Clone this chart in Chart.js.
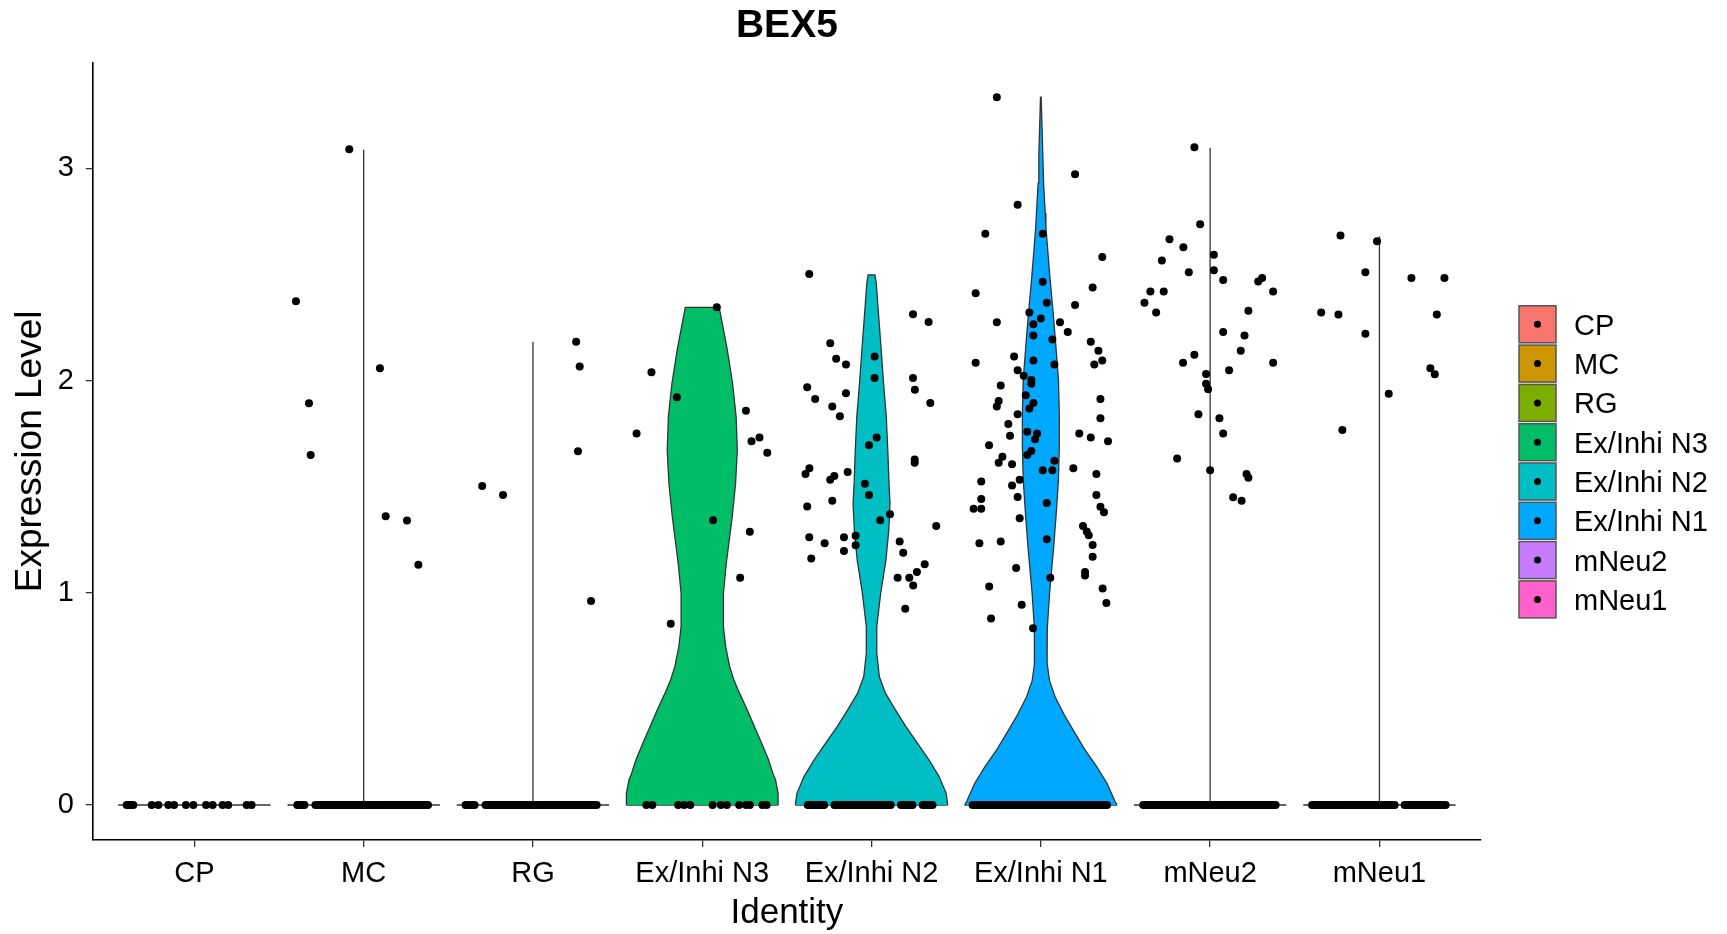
<!DOCTYPE html>
<html>
<head>
<meta charset="utf-8">
<title>BEX5</title>
<script src="https://cdn.jsdelivr.net/npm/chart.js"></script>
<style>
  html, body { margin: 0; padding: 0; background: #ffffff; }
  canvas { display: block; }
</style>
</head>
<body>
<canvas id="vlnChart" width="1727" height="934"></canvas>
<script>
// Identities and their ggplot hue colours
const categories = ["CP", "MC", "RG", "Ex/Inhi N3", "Ex/Inhi N2", "Ex/Inhi N1", "mNeu2", "mNeu1"];
const palette = ["#F8766D", "#CD9600", "#7CAE00", "#00BE67", "#00BFC4", "#00A9FF", "#C77CFF", "#FF61CC"];
const yTicks = [0, 1, 2, 3];

// jitter offsets of the cells sitting at 0
const cpZero = [-0.4, -0.39, -0.38, -0.37, -0.361, -0.252, -0.213, -0.154, -0.12, -0.05, -0.006, 0.069, 0.108, 0.167, 0.2, 0.309, 0.338];
const mcZero = [-0.392, -0.381, -0.37, -0.36, -0.35,
  -0.285, -0.273, -0.261, -0.249, -0.237, -0.225, -0.213, -0.201, -0.189, -0.177, -0.165, -0.153, -0.141, -0.129, -0.117, -0.105,
  -0.093, -0.081, -0.069, -0.057, -0.045, -0.033, -0.021, -0.009, 0.003, 0.015, 0.027, 0.039, 0.051, 0.063, 0.075, 0.087,
  0.099, 0.111, 0.123, 0.135, 0.147, 0.159, 0.171, 0.183, 0.195, 0.207, 0.219, 0.231, 0.243, 0.255, 0.267, 0.279, 0.291,
  0.303, 0.315, 0.327, 0.339, 0.351, 0.363, 0.38];
const rgZero = [-0.398, -0.385, -0.372, -0.358, -0.345,
  -0.28, -0.268, -0.256, -0.244, -0.232, -0.22, -0.208, -0.196, -0.184, -0.172, -0.16, -0.148, -0.136, -0.124, -0.112, -0.1,
  -0.088, -0.076, -0.064, -0.052, -0.04, -0.028, -0.016, -0.004, 0.008, 0.02, 0.032, 0.044, 0.056, 0.068, 0.08, 0.092,
  0.104, 0.116, 0.128, 0.14, 0.152, 0.164, 0.176, 0.188, 0.2, 0.212, 0.224, 0.236, 0.248, 0.26, 0.272, 0.284, 0.296,
  0.308, 0.32, 0.332, 0.344, 0.356, 0.366, 0.376];
const n3Zero = [-0.33, -0.295, -0.142, -0.107, -0.071, 0.061, 0.11, 0.145, 0.218, 0.258, 0.281, 0.356, 0.38];
const n2Zero = [-0.377, -0.366, -0.355, -0.343, -0.33, -0.318, -0.305, -0.293, -0.28,
  -0.219, -0.207, -0.195, -0.183, -0.17, -0.158, -0.145, -0.133, -0.12, -0.108, -0.095, -0.083, -0.07, -0.058, -0.045,
  -0.033, -0.02, -0.008, 0.005, 0.017, 0.03, 0.042, 0.055, 0.067, 0.08, 0.096, 0.113,
  0.174, 0.187, 0.2, 0.21, 0.22, 0.231, 0.242,
  0.302, 0.316, 0.33, 0.345, 0.36];
const n1Zero = [-0.403, -0.391, -0.379, -0.367, -0.355, -0.343, -0.331, -0.319, -0.307, -0.295, -0.283, -0.271, -0.259,
  -0.247, -0.235, -0.223, -0.211, -0.199, -0.187, -0.175, -0.163, -0.151, -0.139, -0.127, -0.115, -0.103, -0.091, -0.079,
  -0.067, -0.055, -0.043, -0.031, -0.019, -0.007, 0.005, 0.017, 0.029, 0.041, 0.053, 0.065, 0.077, 0.089, 0.101, 0.113,
  0.125, 0.137, 0.149, 0.161, 0.173, 0.185, 0.197, 0.209, 0.221, 0.233, 0.245, 0.257, 0.269, 0.281, 0.293, 0.305, 0.317,
  0.329, 0.341, 0.353, 0.365, 0.378, 0.391];
const mneu2Zero = [-0.395, -0.383, -0.371, -0.359, -0.347, -0.335, -0.323, -0.311, -0.299, -0.287, -0.275, -0.263, -0.251,
  -0.239, -0.227, -0.215, -0.203, -0.191, -0.179, -0.167, -0.155, -0.143, -0.131, -0.119, -0.107, -0.095, -0.083, -0.071,
  -0.059, -0.047, -0.035, -0.023, -0.011, 0.001, 0.013, 0.025, 0.037, 0.049, 0.061, 0.073, 0.085, 0.097, 0.109, 0.121,
  0.133, 0.145, 0.157, 0.169, 0.181, 0.193, 0.205, 0.217, 0.229, 0.241, 0.253, 0.265, 0.277, 0.289, 0.301, 0.313, 0.325,
  0.337, 0.349, 0.358, 0.367, 0.377, 0.387];
const mneu1Zero = [-0.398, -0.386, -0.374, -0.362, -0.35, -0.338, -0.326, -0.314, -0.302, -0.29, -0.278, -0.266, -0.254,
  -0.242, -0.23, -0.218, -0.206, -0.194, -0.182, -0.17, -0.158, -0.146, -0.134, -0.122, -0.11, -0.098, -0.086, -0.074,
  -0.062, -0.05, -0.038, -0.026, -0.014, -0.002, 0.01, 0.022, 0.034, 0.046, 0.058, 0.07, 0.08, 0.09,
  0.149, 0.161, 0.173, 0.185, 0.197, 0.209, 0.221, 0.233, 0.245, 0.257, 0.269, 0.281, 0.293, 0.305, 0.317, 0.329, 0.341,
  0.353, 0.365, 0.378, 0.391];

// expressing cells: value and jitter
const mcVals = [3.09, 2.374, 2.058, 1.893, 1.649, 1.361, 1.34, 1.132];
const mcJit = [-0.085, -0.4, 0.096, -0.323, -0.313, 0.13, 0.256, 0.323];
const rgVals = [2.183, 2.066, 1.667, 1.503, 1.46, 0.961];
const rgJit = [0.255, 0.276, 0.266, -0.3, -0.177, 0.343];
const n3Vals = [2.345, 2.039, 1.921, 1.75, 1.857, 1.731, 1.714, 1.66, 1.342, 1.287, 1.071, 0.854];
const n3Jit = [0.086, -0.3, -0.15, -0.388, 0.258, 0.338, 0.291, 0.384, 0.064, 0.281, 0.224, -0.186];
const n2Vals = [2.502, 2.176, 2.103, 2.075, 2.113, 2.012, 2.312, 2.276, 1.968, 1.913, 1.94, 1.877, 1.832, 2.012, 1.957, 1.894,
  1.731, 1.695, 1.628, 1.613, 1.587, 1.56, 1.55, 1.532, 1.569, 1.514, 1.46, 1.406, 1.433, 1.37, 1.342, 1.315,
  1.261, 1.233, 1.261, 1.269, 1.224, 1.197, 1.242, 1.188, 1.161, 1.134, 1.071, 1.071, 1.098, 1.034, 0.925];
const n2Jit = [-0.368, -0.244, -0.209, -0.151, 0.018, 0.018, 0.245, 0.337, -0.38, -0.333, -0.151, -0.232, -0.187, 0.245, 0.256, 0.347,
  0.03, -0.015, 0.255, 0.255, -0.367, -0.39, -0.22, -0.244, -0.141, -0.039, -0.015, -0.38, -0.232, 0.109, 0.051, 0.382,
  -0.368, -0.277, -0.163, -0.094, -0.094, -0.163, 0.166, 0.187, -0.356, 0.314, 0.154, 0.223, 0.268, 0.246, 0.199];
const n1Vals = [3.335, 2.972, 2.828, 2.691, 2.691, 2.582, 2.465, 2.438, 2.411, 2.366, 2.356, 2.32, 2.292, 2.274, 2.274, 2.265,
  2.229, 2.212, 2.193, 2.183, 2.14, 2.084, 2.113, 2.094, 2.075, 2.075, 2.094, 2.048, 2.022, 2.003, 1.985, 1.976,
  1.931, 1.904, 1.877, 1.894, 1.868, 1.913, 1.841, 1.822, 1.795, 1.759, 1.74, 1.75, 1.723, 1.75, 1.731, 1.714,
  1.695, 1.668, 1.649, 1.641, 1.613, 1.605, 1.622, 1.577, 1.577, 1.587, 1.56, 1.524, 1.533, 1.505, 1.451, 1.442,
  1.461, 1.423, 1.396, 1.396, 1.405, 1.379, 1.351, 1.315, 1.288, 1.271, 1.225, 1.233, 1.242, 1.252, 1.17, 1.117,
  1.098, 1.081, 1.071, 1.03, 0.944, 0.879, 0.833, 1.02, 0.952];
const n1Jit = [-0.26, 0.202, -0.137, -0.328, 0.011, 0.363, 0.011, 0.306, -0.385, 0.035, 0.202, -0.068, 0, -0.26, 0.113, -0.044,
  0.159, -0.044, 0.068, 0.295, 0.34, -0.385, -0.158, -0.044, 0.08, 0.316, 0.363, -0.137, -0.101, -0.056, -0.056, -0.237,
  -0.089, -0.249, -0.26, -0.044, -0.068, 0.352, -0.137, 0.352, -0.192, -0.08, -0.182, -0.022, -0.034, 0.227, 0.295, 0.397,
  -0.306, -0.056, -0.08, -0.227, -0.249, -0.17, 0.08, 0.011, 0.068, 0.192, 0.328, -0.352, -0.125, -0.17, -0.137, -0.352,
  0.328, 0.035, -0.397, -0.352, 0.352, 0.373, -0.125, 0.249, 0.271, 0.283, 0.306, -0.363, -0.237, 0.035, 0.306, -0.146,
  0.261, 0.261, 0.056, -0.305, -0.113, -0.294, -0.046, 0.365, 0.387];
const mneu2Vals = [3.099, 2.736, 2.666, 2.628, 2.592, 2.565, 2.51, 2.52, 2.474, 2.466, 2.483, 2.419, 2.419, 2.419, 2.366, 2.32,
  2.329, 2.229, 2.212, 2.14, 2.084, 2.121, 2.084, 2.048, 2.031, 1.985, 1.959, 1.841, 1.822, 1.75, 1.632, 1.577,
  1.56, 1.542, 1.45, 1.433];
const mneu2Jit = [-0.093, -0.059, -0.24, -0.158, 0.022, -0.285, -0.126, 0.022, 0.077, 0.284, 0.307, 0.372, -0.353, -0.274, -0.388, -0.319,
  0.226, 0.077, 0.203, 0.181, 0.372, -0.093, -0.16, 0.112, -0.024, -0.024, -0.012, -0.069, 0.055, 0.077, -0.195, 0,
  0.215, 0.226, 0.136, 0.186];
const mneu1Vals = [2.683, 2.656, 2.51, 2.483, 2.483, 2.32, 2.311, 2.311, 2.22, 2.058, 2.03, 1.938, 1.767];
const mneu1Jit = [-0.23, -0.014, -0.083, 0.189, 0.384, -0.344, -0.242, 0.339, -0.083, 0.301, 0.327, 0.055, -0.219];

// violin outlines: density levels and half widths (x units)
const n3Levels = [0, 0.055, 0.118, 0.15, 0.212, 0.291, 0.37, 0.448, 0.527, 0.589, 0.652, 0.747, 0.841, 0.998, 1.138, 1.358, 1.516, 1.673, 1.83, 1.987, 2.144, 2.254, 2.345];
const n3Half = [0.448, 0.448, 0.433, 0.417, 0.392, 0.351, 0.308, 0.266, 0.22, 0.187, 0.162, 0.138, 0.125, 0.125, 0.142, 0.177, 0.197, 0.207, 0.2, 0.179, 0.148, 0.122, 0.1];
const n2Levels = [0, 0.055, 0.134, 0.212, 0.291, 0.37, 0.448, 0.527, 0.605, 0.715, 0.841, 0.998, 1.155, 1.296, 1.422, 1.516, 1.673, 1.83, 1.987, 2.144, 2.348, 2.458, 2.498];
const n2Half = [0.45, 0.441, 0.399, 0.34, 0.271, 0.202, 0.141, 0.082, 0.046, 0.031, 0.031, 0.054, 0.085, 0.102, 0.109, 0.103, 0.096, 0.087, 0.071, 0.057, 0.038, 0.028, 0.02];
const n1Levels = [0, 0.019, 0.1, 0.181, 0.262, 0.343, 0.424, 0.506, 0.587, 0.668, 0.83, 0.993, 1.155, 1.217, 1.375, 1.532, 1.689, 1.846, 2.003, 2.16, 2.317, 2.474, 2.631, 2.725, 2.788, 2.93, 3.055, 3.335];
const n1Half = [0.45, 0.437, 0.392, 0.33, 0.259, 0.198, 0.139, 0.086, 0.051, 0.037, 0.038, 0.051, 0.069, 0.076, 0.091, 0.104, 0.109, 0.109, 0.104, 0.089, 0.073, 0.055, 0.039, 0.03, 0.026, 0.016, 0.012, 0.002];
// identities whose violin collapses to a spike at 0 plus a line to the max
const lineTops = [0, 3.087, 2.183, 0, 0, 0, 3.097, 2.678];

const zeroJitter = [cpZero, mcZero, rgZero, n3Zero, n2Zero, n1Zero, mneu2Zero, mneu1Zero];
const exprVals = [[], mcVals, rgVals, n3Vals, n2Vals, n1Vals, mneu2Vals, mneu1Vals];
const exprJit = [[], mcJit, rgJit, n3Jit, n2Jit, n1Jit, mneu2Jit, mneu1Jit];
const profiles = { 3: [n3Levels, n3Half], 4: [n2Levels, n2Half], 5: [n1Levels, n1Half] };

const VIOLIN_HALF = 0.45;

var cells = [];
categories.forEach(function (name, i) {
  zeroJitter[i].forEach(function (dx) { cells.push({ x: i + 1 + dx, y: 0 }); });
  exprVals[i].forEach(function (v, k) { cells.push({ x: i + 1 + exprJit[i][k], y: v }); });
});

function violinShape(pos, levels, half) {
  var pts = levels.map(function (y, k) { return { x: pos - half[k], y: y }; });
  for (var k = levels.length - 1; k >= 0; k--) pts.push({ x: pos + half[k], y: levels[k] });
  return pts;
}

function flatViolin(pos, top) {
  var pts = [{ x: pos - VIOLIN_HALF, y: 0 }, { x: pos, y: 0 }];
  if (top > 0) pts.push({ x: pos, y: top }, { x: pos, y: 0 });
  pts.push({ x: pos + VIOLIN_HALF, y: 0 });
  return pts;
}

var datasets = [{
  label: "cells",
  data: cells,
  pointRadius: 4,
  pointHoverRadius: 4,
  pointBackgroundColor: "#000000",
  pointBorderWidth: 0,
  order: 0
}];

categories.forEach(function (name, i) {
  if (profiles[i]) {
    datasets.push({
      label: name,
      data: violinShape(i + 1, profiles[i][0], profiles[i][1]),
      showLine: true,
      fill: "shape",
      backgroundColor: palette[i],
      borderColor: "#333333",
      borderWidth: 1.3,
      pointRadius: 0,
      tension: 0,
      order: 1
    });
  }
  datasets.push({
    label: name + " base",
    data: flatViolin(i + 1, lineTops[i]),
    showLine: true,
    fill: false,
    borderColor: "#333333",
    borderWidth: 1.3,
    pointRadius: 0,
    tension: 0,
    order: 2
  });
});

// legend drawn to the right of the panel, ggplot style keys
const sideLegend = {
  id: "sideLegend",
  afterDraw: function (chart) {
    var ctx = chart.ctx;
    var area = chart.chartArea;
    var left = area.right + 38;
    var top0 = area.top + 243;
    ctx.save();
    ctx.font = '29px "Liberation Sans", Arial, sans-serif';
    ctx.textBaseline = "middle";
    ctx.textAlign = "left";
    categories.forEach(function (name, i) {
      var top = top0 + i * 39.3;
      ctx.fillStyle = palette[i];
      ctx.fillRect(left, top, 37, 37);
      ctx.strokeStyle = "#555555";
      ctx.lineWidth = 1.5;
      ctx.strokeRect(left, top, 37, 37);
      ctx.beginPath();
      ctx.arc(left + 18.5, top + 18.5, 3.5, 0, Math.PI * 2);
      ctx.fillStyle = "#000000";
      ctx.fill();
      ctx.fillText(name, left + 55, top + 21);
    });
    ctx.restore();
  }
};

Chart.defaults.font.family = '"Liberation Sans", Arial, sans-serif';
Chart.defaults.color = "#000000";

new Chart("vlnChart", {
  type: "scatter",
  data: { datasets: datasets },
  plugins: [sideLegend],
  options: {
    responsive: false,
    animation: false,
    devicePixelRatio: 1,
    layout: { padding: { left: 0, right: 246, top: 0, bottom: 0 } },
    plugins: {
      legend: { display: false },
      tooltip: { enabled: false },
      title: {
        display: true,
        text: "BEX5",
        fullSize: false,
        color: "#000000",
        font: { size: 39, weight: "bold" },
        padding: { top: 3, bottom: 13 }
      }
    },
    scales: {
      x: {
        type: "linear",
        min: 0.4,
        max: 8.6,
        afterBuildTicks: function (axis) {
          axis.ticks = categories.map(function (c, i) { return { value: i + 1 }; });
        },
        afterFit: function (axis) { axis.height = 94; },
        ticks: {
          callback: function (value) { return categories[value - 1]; },
          font: { size: 29 },
          color: "#000000",
          padding: 10,
          autoSkip: false,
          maxRotation: 0
        },
        grid: { drawOnChartArea: false, drawTicks: true, tickLength: 7, color: "#333333", lineWidth: 1.3 },
        border: { display: true, color: "#000000", width: 1.6 },
        title: { display: true, text: "Identity", font: { size: 35 }, color: "#000000", padding: { top: 0, bottom: 0 } }
      },
      y: {
        min: -0.165,
        max: 3.497,
        afterBuildTicks: function (axis) {
          axis.ticks = yTicks.map(function (v) { return { value: v }; });
        },
        afterFit: function (axis) { axis.width = 92.8; },
        ticks: { font: { size: 29 }, color: "#000000", padding: 12 },
        grid: { drawOnChartArea: false, drawTicks: true, tickLength: 7, color: "#333333", lineWidth: 1.3 },
        border: { display: true, color: "#000000", width: 1.6 },
        title: { display: true, text: "Expression Level", font: { size: 37 }, color: "#000000", padding: { top: 9, bottom: 0 } }
      }
    }
  }
});
</script>
</body>
</html>
